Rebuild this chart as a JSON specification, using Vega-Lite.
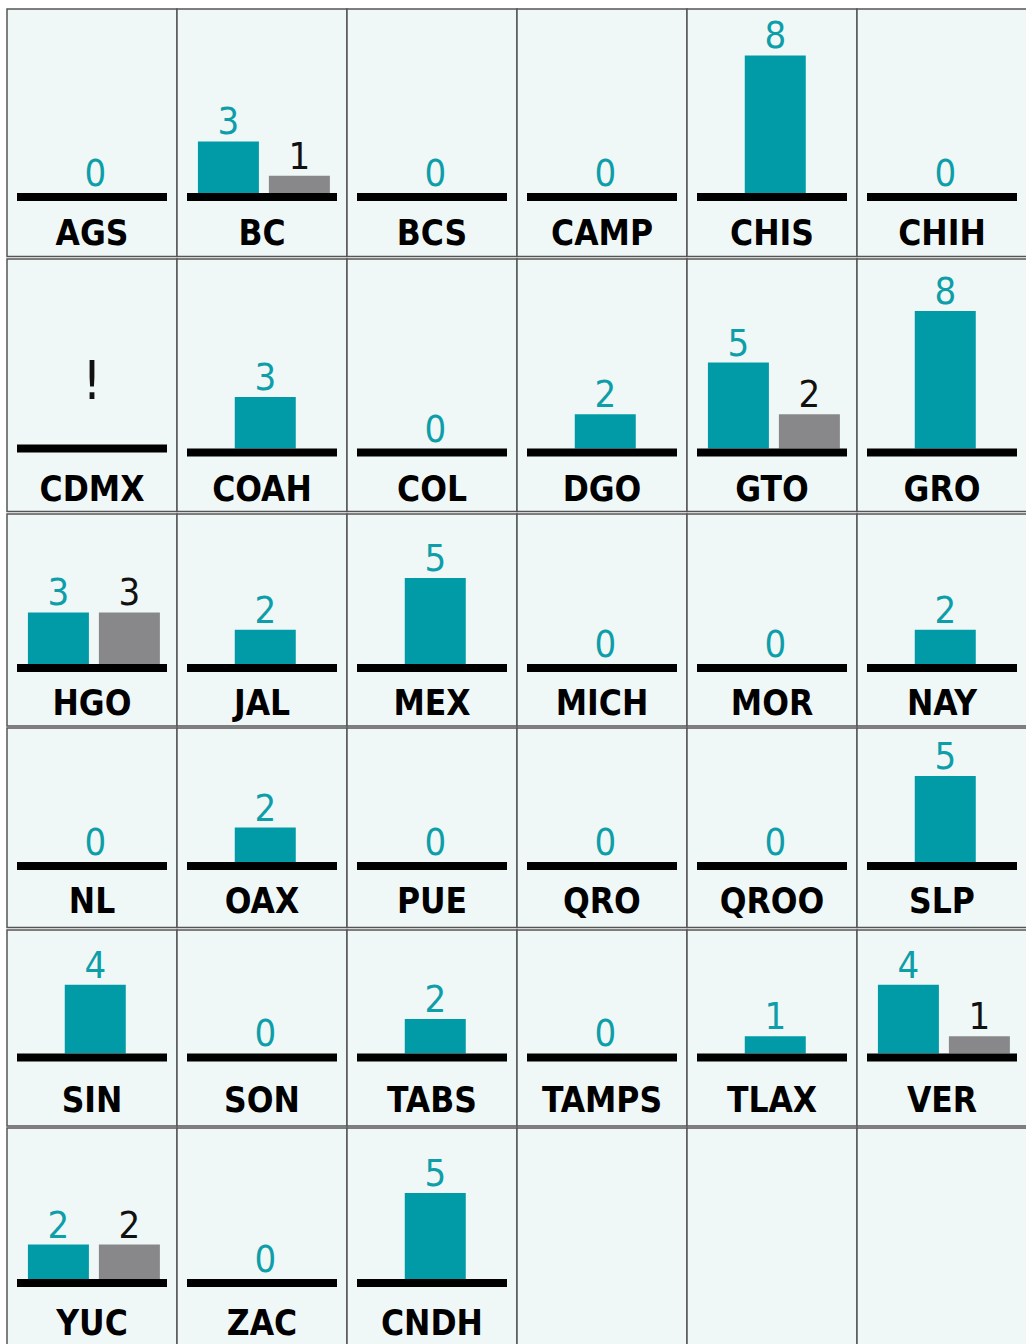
{
  "$schema": "https://vega.github.io/schema/vega-lite/v6.json",
  "padding": {"left": 6, "top": 8, "right": 0, "bottom": 0},
  "background": "white",
  "spacing": 0,
  "config": {
    "view": {"fill": "#f0f8f7", "stroke": "#555555", "strokeWidth": 1.5},
    "mark": {"invalid": "show"},
    "facet": {"spacing": 0},
    "concat": {"spacing": 0}
  },
  "vconcat": [
    {
      "data": {"values": [
        {"estado": "AGS", "grupo": "A", "valor": 0},
        {"estado": "BC", "grupo": "A", "valor": 3},
        {"estado": "BC", "grupo": "B", "valor": 1},
        {"estado": "BCS", "grupo": "A", "valor": 0},
        {"estado": "CAMP", "grupo": "A", "valor": 0},
        {"estado": "CHIS", "grupo": "A", "valor": 8},
        {"estado": "CHIH", "grupo": "A", "valor": 0}
      ]},
      "facet": {"column": {"field": "estado", "type": "nominal", "header": null, "sort": ["AGS", "BC", "BCS", "CAMP", "CHIS", "CHIH"]}},
      "spacing": 0, "bounds": "flush",
      "resolve": {"scale": {"x": "independent"}},
      "spec": {
        "width": 170, "height": 247.5,
        "encoding": {
          "x": {"field": "grupo", "type": "nominal", "axis": null, "scale": {"paddingInner": 0.141, "paddingOuter": 0.268, "align": 0.55}},
          "y": {"field": "valor", "type": "quantitative", "axis": null, "scale": {"domain": [-3.69, 10.7], "nice": false, "zero": false}}
        },
        "layer": [
          {"transform": [{"filter": "isValid(datum.valor)"}], "mark": {"type": "bar", "width": 61}, "encoding": {"color": {"field": "grupo", "type": "nominal", "legend": null, "scale": {"domain": ["A", "B"], "range": ["#009ba6", "#88888a"]}}}},
          {"transform": [{"filter": "isValid(datum.valor)"}], "mark": {"type": "text", "baseline": "alphabetic", "dy": -7, "font": "DejaVu Sans Condensed", "fontSize": 38}, "encoding": {"text": {"field": "valor", "type": "quantitative"}, "color": {"condition": {"test": "datum.grupo === 'B'", "value": "#111111"}, "value": "#0e9ea9"}}},
          {"transform": [{"filter": "datum.grupo === 'A'"}], "mark": {"type": "rule", "x": 10, "x2": 160, "strokeWidth": 8, "yOffset": 4, "color": "#000000"}, "encoding": {"x": null, "y": {"datum": 0, "type": "quantitative"}}},
          {"transform": [{"filter": "datum.grupo === 'A'"}], "mark": {"type": "text", "baseline": "alphabetic", "dy": 51.5, "font": "DejaVu Sans Condensed", "fontWeight": "bold", "fontSize": 35, "color": "#000000"}, "encoding": {"x": null, "y": {"datum": 0, "type": "quantitative"}, "text": {"field": "estado"}}}
        ]
      }
    },
    {
      "data": {"values": [
        {"estado": "CDMX", "grupo": "A", "valor": null, "nota": "!"},
        {"estado": "COAH", "grupo": "A", "valor": 3},
        {"estado": "COL", "grupo": "A", "valor": 0},
        {"estado": "DGO", "grupo": "A", "valor": 2},
        {"estado": "GTO", "grupo": "A", "valor": 5},
        {"estado": "GTO", "grupo": "B", "valor": 2},
        {"estado": "GRO", "grupo": "A", "valor": 8}
      ]},
      "facet": {"column": {"field": "estado", "type": "nominal", "header": null, "sort": ["CDMX", "COAH", "COL", "DGO", "GTO", "GRO"]}},
      "spacing": 0, "bounds": "flush",
      "resolve": {"scale": {"x": "independent"}},
      "spec": {
        "width": 170, "height": 252.5,
        "encoding": {
          "x": {"field": "grupo", "type": "nominal", "axis": null, "scale": {"paddingInner": 0.141, "paddingOuter": 0.268, "align": 0.55}},
          "y": {"field": "valor", "type": "quantitative", "axis": null, "scale": {"domain": [-3.66, 11.02], "nice": false, "zero": false}}
        },
        "layer": [
          {"transform": [{"filter": "isValid(datum.valor)"}], "mark": {"type": "bar", "width": 61}, "encoding": {"color": {"field": "grupo", "type": "nominal", "legend": null, "scale": {"domain": ["A", "B"], "range": ["#009ba6", "#88888a"]}}}},
          {"transform": [{"filter": "isValid(datum.valor)"}], "mark": {"type": "text", "baseline": "alphabetic", "dy": -7, "font": "DejaVu Sans Condensed", "fontSize": 38}, "encoding": {"text": {"field": "valor", "type": "quantitative"}, "color": {"condition": {"test": "datum.grupo === 'B'", "value": "#111111"}, "value": "#0e9ea9"}}},
          {"transform": [{"filter": "isValid(datum.nota)"}], "mark": {"type": "text", "baseline": "alphabetic", "dy": -50, "font": "DejaVu Sans Condensed", "fontSize": 54, "color": "#111111"}, "encoding": {"x": null, "y": {"datum": 0, "type": "quantitative"}, "text": {"field": "nota"}}},
          {"transform": [{"filter": "datum.grupo === 'A'"}], "mark": {"type": "rule", "x": 10, "x2": 160, "strokeWidth": 8, "yOffset": 4, "color": "#000000"}, "encoding": {"x": null, "y": {"datum": 0, "type": "quantitative"}}},
          {"transform": [{"filter": "datum.grupo === 'A'"}], "mark": {"type": "text", "baseline": "alphabetic", "dy": 52, "font": "DejaVu Sans Condensed", "fontWeight": "bold", "fontSize": 35, "color": "#000000"}, "encoding": {"x": null, "y": {"datum": 0, "type": "quantitative"}, "text": {"field": "estado"}}}
        ]
      }
    },
    {
      "data": {"values": [
        {"estado": "HGO", "grupo": "A", "valor": 3},
        {"estado": "HGO", "grupo": "B", "valor": 3},
        {"estado": "JAL", "grupo": "A", "valor": 2},
        {"estado": "MEX", "grupo": "A", "valor": 5},
        {"estado": "MICH", "grupo": "A", "valor": 0},
        {"estado": "MOR", "grupo": "A", "valor": 0},
        {"estado": "NAY", "grupo": "A", "valor": 2}
      ]},
      "facet": {"column": {"field": "estado", "type": "nominal", "header": null, "sort": ["HGO", "JAL", "MEX", "MICH", "MOR", "NAY"]}},
      "spacing": 0, "bounds": "flush",
      "resolve": {"scale": {"x": "independent"}},
      "spec": {
        "width": 170, "height": 212,
        "encoding": {
          "x": {"field": "grupo", "type": "nominal", "axis": null, "scale": {"paddingInner": 0.141, "paddingOuter": 0.268, "align": 0.55}},
          "y": {"field": "valor", "type": "quantitative", "axis": null, "scale": {"domain": [-3.6, 8.72], "nice": false, "zero": false}}
        },
        "layer": [
          {"transform": [{"filter": "isValid(datum.valor)"}], "mark": {"type": "bar", "width": 61}, "encoding": {"color": {"field": "grupo", "type": "nominal", "legend": null, "scale": {"domain": ["A", "B"], "range": ["#009ba6", "#88888a"]}}}},
          {"transform": [{"filter": "isValid(datum.valor)"}], "mark": {"type": "text", "baseline": "alphabetic", "dy": -7, "font": "DejaVu Sans Condensed", "fontSize": 38}, "encoding": {"text": {"field": "valor", "type": "quantitative"}, "color": {"condition": {"test": "datum.grupo === 'B'", "value": "#111111"}, "value": "#0e9ea9"}}},
          {"transform": [{"filter": "datum.grupo === 'A'"}], "mark": {"type": "rule", "x": 10, "x2": 160, "strokeWidth": 8, "yOffset": 4, "color": "#000000"}, "encoding": {"x": null, "y": {"datum": 0, "type": "quantitative"}}},
          {"transform": [{"filter": "datum.grupo === 'A'"}], "mark": {"type": "text", "baseline": "alphabetic", "dy": 51, "font": "DejaVu Sans Condensed", "fontWeight": "bold", "fontSize": 35, "color": "#000000"}, "encoding": {"x": null, "y": {"datum": 0, "type": "quantitative"}, "text": {"field": "estado"}}}
        ]
      }
    },
    {
      "data": {"values": [
        {"estado": "NL", "grupo": "A", "valor": 0},
        {"estado": "OAX", "grupo": "A", "valor": 2},
        {"estado": "PUE", "grupo": "A", "valor": 0},
        {"estado": "QRO", "grupo": "A", "valor": 0},
        {"estado": "QROO", "grupo": "A", "valor": 0},
        {"estado": "SLP", "grupo": "A", "valor": 5}
      ]},
      "facet": {"column": {"field": "estado", "type": "nominal", "header": null, "sort": ["NL", "OAX", "PUE", "QRO", "QROO", "SLP"]}},
      "spacing": 0, "bounds": "flush",
      "resolve": {"scale": {"x": "independent"}},
      "spec": {
        "width": 170, "height": 199.5,
        "encoding": {
          "x": {"field": "grupo", "type": "nominal", "axis": null, "scale": {"paddingInner": 0.141, "paddingOuter": 0.268, "align": 0.55}},
          "y": {"field": "valor", "type": "quantitative", "axis": null, "scale": {"domain": [-3.81, 7.79], "nice": false, "zero": false}}
        },
        "layer": [
          {"transform": [{"filter": "isValid(datum.valor)"}], "mark": {"type": "bar", "width": 61}, "encoding": {"color": {"field": "grupo", "type": "nominal", "legend": null, "scale": {"domain": ["A", "B"], "range": ["#009ba6", "#88888a"]}}}},
          {"transform": [{"filter": "isValid(datum.valor)"}], "mark": {"type": "text", "baseline": "alphabetic", "dy": -7, "font": "DejaVu Sans Condensed", "fontSize": 38}, "encoding": {"text": {"field": "valor", "type": "quantitative"}, "color": {"condition": {"test": "datum.grupo === 'B'", "value": "#111111"}, "value": "#0e9ea9"}}},
          {"transform": [{"filter": "datum.grupo === 'A'"}], "mark": {"type": "rule", "x": 10, "x2": 160, "strokeWidth": 8, "yOffset": 4, "color": "#000000"}, "encoding": {"x": null, "y": {"datum": 0, "type": "quantitative"}}},
          {"transform": [{"filter": "datum.grupo === 'A'"}], "mark": {"type": "text", "baseline": "alphabetic", "dy": 51, "font": "DejaVu Sans Condensed", "fontWeight": "bold", "fontSize": 35, "color": "#000000"}, "encoding": {"x": null, "y": {"datum": 0, "type": "quantitative"}, "text": {"field": "estado"}}}
        ]
      }
    },
    {
      "data": {"values": [
        {"estado": "SIN", "grupo": "A", "valor": 4},
        {"estado": "SON", "grupo": "A", "valor": 0},
        {"estado": "TABS", "grupo": "A", "valor": 2},
        {"estado": "TAMPS", "grupo": "A", "valor": 0},
        {"estado": "TLAX", "grupo": "A", "valor": 1},
        {"estado": "VER", "grupo": "A", "valor": 4},
        {"estado": "VER", "grupo": "B", "valor": 1}
      ]},
      "facet": {"column": {"field": "estado", "type": "nominal", "header": null, "sort": ["SIN", "SON", "TABS", "TAMPS", "TLAX", "VER"]}},
      "spacing": 0, "bounds": "flush",
      "resolve": {"scale": {"x": "independent"}},
      "spec": {
        "width": 170, "height": 196,
        "encoding": {
          "x": {"field": "grupo", "type": "nominal", "axis": null, "scale": {"paddingInner": 0.141, "paddingOuter": 0.268, "align": 0.55}},
          "y": {"field": "valor", "type": "quantitative", "axis": null, "scale": {"domain": [-4.22, 7.18], "nice": false, "zero": false}}
        },
        "layer": [
          {"transform": [{"filter": "isValid(datum.valor)"}], "mark": {"type": "bar", "width": 61}, "encoding": {"color": {"field": "grupo", "type": "nominal", "legend": null, "scale": {"domain": ["A", "B"], "range": ["#009ba6", "#88888a"]}}}},
          {"transform": [{"filter": "isValid(datum.valor)"}], "mark": {"type": "text", "baseline": "alphabetic", "dy": -7, "font": "DejaVu Sans Condensed", "fontSize": 38}, "encoding": {"text": {"field": "valor", "type": "quantitative"}, "color": {"condition": {"test": "datum.grupo === 'B'", "value": "#111111"}, "value": "#0e9ea9"}}},
          {"transform": [{"filter": "datum.grupo === 'A'"}], "mark": {"type": "rule", "x": 10, "x2": 160, "strokeWidth": 8, "yOffset": 4, "color": "#000000"}, "encoding": {"x": null, "y": {"datum": 0, "type": "quantitative"}}},
          {"transform": [{"filter": "datum.grupo === 'A'"}], "mark": {"type": "text", "baseline": "alphabetic", "dy": 59, "font": "DejaVu Sans Condensed", "fontWeight": "bold", "fontSize": 35, "color": "#000000"}, "encoding": {"x": null, "y": {"datum": 0, "type": "quantitative"}, "text": {"field": "estado"}}}
        ]
      }
    },
    {
      "data": {"values": [
        {"estado": "YUC", "grupo": "A", "valor": 2},
        {"estado": "YUC", "grupo": "B", "valor": 2},
        {"estado": "ZAC", "grupo": "A", "valor": 0},
        {"estado": "CNDH", "grupo": "A", "valor": 5},
        {"estado": "", "grupo": null, "valor": null},
        {"estado": " ", "grupo": null, "valor": null},
        {"estado": "  ", "grupo": null, "valor": null}
      ]},
      "facet": {"column": {"field": "estado", "type": "nominal", "header": null, "sort": ["YUC", "ZAC", "CNDH", "", " ", "  "]}},
      "spacing": 0, "bounds": "flush",
      "resolve": {"scale": {"x": "independent"}},
      "spec": {
        "width": 170, "height": 221,
        "encoding": {
          "x": {"field": "grupo", "type": "nominal", "axis": null, "scale": {"paddingInner": 0.141, "paddingOuter": 0.268, "align": 0.55}},
          "y": {"field": "valor", "type": "quantitative", "axis": null, "scale": {"domain": [-4.07, 8.78], "nice": false, "zero": false}}
        },
        "layer": [
          {"transform": [{"filter": "isValid(datum.valor)"}], "mark": {"type": "bar", "width": 61}, "encoding": {"color": {"field": "grupo", "type": "nominal", "legend": null, "scale": {"domain": ["A", "B"], "range": ["#009ba6", "#88888a"]}}}},
          {"transform": [{"filter": "isValid(datum.valor)"}], "mark": {"type": "text", "baseline": "alphabetic", "dy": -7, "font": "DejaVu Sans Condensed", "fontSize": 38}, "encoding": {"text": {"field": "valor", "type": "quantitative"}, "color": {"condition": {"test": "datum.grupo === 'B'", "value": "#111111"}, "value": "#0e9ea9"}}},
          {"transform": [{"filter": "datum.grupo === 'A'"}], "mark": {"type": "rule", "x": 10, "x2": 160, "strokeWidth": 8, "yOffset": 4, "color": "#000000"}, "encoding": {"x": null, "y": {"datum": 0, "type": "quantitative"}}},
          {"transform": [{"filter": "datum.grupo === 'A'"}], "mark": {"type": "text", "baseline": "alphabetic", "dy": 56, "font": "DejaVu Sans Condensed", "fontWeight": "bold", "fontSize": 35, "color": "#000000"}, "encoding": {"x": null, "y": {"datum": 0, "type": "quantitative"}, "text": {"field": "estado"}}}
        ]
      }
    }
  ]
}
